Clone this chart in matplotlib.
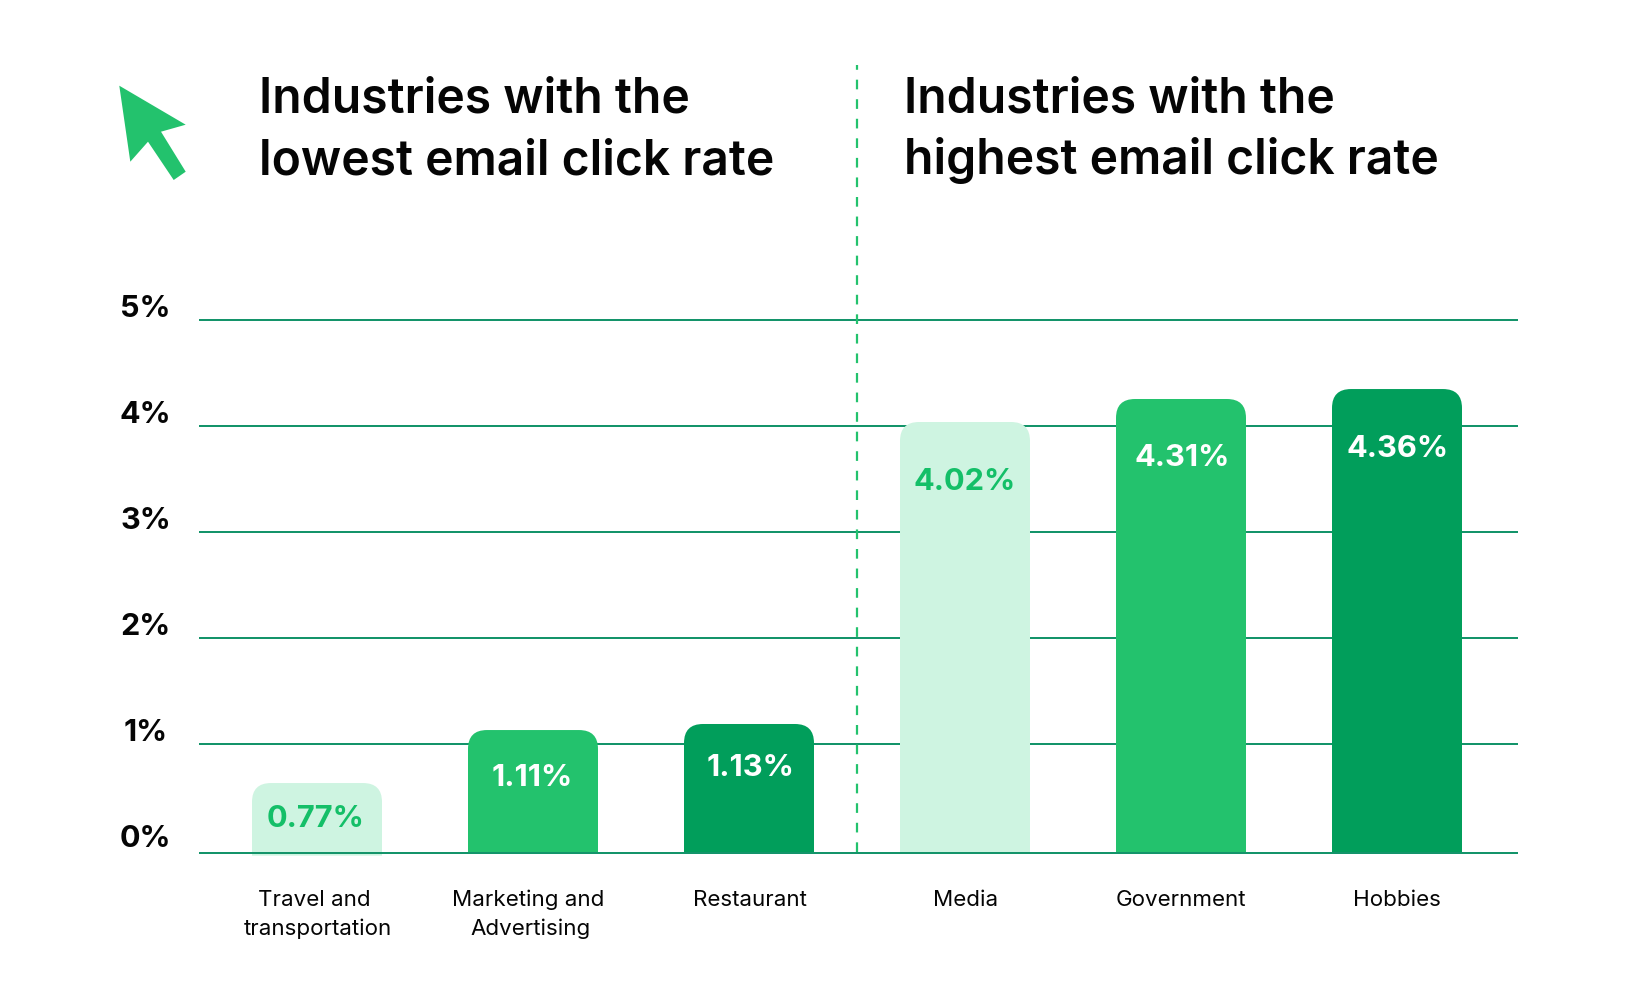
import matplotlib
matplotlib.use("Agg")
import matplotlib.pyplot as plt
from matplotlib.lines import Line2D
from matplotlib.patches import PathPatch, Polygon
from matplotlib.path import Path
from matplotlib.transforms import Affine2D, ScaledTranslation

plt.rcParams["font.family"] = ["Inter", "DejaVu Sans"]

W, H = 1628, 999
DPI = 100

# chart data
categories = [
    ["Travel and", "transportation"],
    ["Marketing and", "Advertising"],
    ["Restaurant"],
    ["Media"],
    ["Government"],
    ["Hobbies"],
]
value_labels = ["0.77%", "1.11%", "1.13%", "4.02%", "4.31%", "4.36%"]
bar_heights = [0.66, 1.16, 1.217, 4.066, 4.283, 4.377]
bar_bottoms = [-0.025, 0, 0, 0, 0, 0]
tick_values = [0, 1.028, 2.028, 3.028, 4.028, 5.028]
tick_labels = ["0%", "1%", "2%", "3%", "4%", "5%"]
titles = [
    ["Industries with the", "lowest email click rate"],
    ["Industries with the", "highest email click rate"],
]

LIGHT = "#cef4e1"
MID = "#23c26d"
DARK = "#019e5b"
GRID = "#14946a"
INK = "#050505"
bar_colors = [LIGHT, MID, DARK, LIGHT, MID, DARK]
label_colors = ["#14bf68", "white", "white", "#14bf68", "white", "white"]

fig = plt.figure(figsize=(W / DPI, H / DPI), dpi=DPI)
# pixel coordinates of the picture, y going down
px = Affine2D().scale(1, -1).translate(0, H)

left, right, top, bottom = 199, 1518, 310, 853
ax = fig.add_axes([left / W, (H - bottom) / H, (right - left) / W, (bottom - top) / H])
ax.set_xlim((left - 317) / 216, (right - 317) / 216)
ax.set_ylim(0, (bottom - top) / 106)
for side in ax.spines.values():
    side.set_visible(False)
ax.set_xticks([])

ax.set_yticks(tick_values, tick_labels, fontsize=22, fontweight=700, color=INK)
ax.tick_params(axis="y", length=0, pad=38.4)
tick_shift = [6, 3, 2.7, 2.7, 2.7, 3.3]
for label, shift in zip(ax.get_yticklabels(), tick_shift):
    label.set_ha("center")
    label.set_va("baseline")
    label.set_transform(
        label.get_transform()
        + ScaledTranslation(0, shift / DPI, fig.dpi_scale_trans)
    )

ax.set_axisbelow(True)
ax.yaxis.grid(True, color=GRID, linewidth=1.44)
ax.axhline(0, color=GRID, linewidth=1.44, zorder=4, clip_on=False, solid_capstyle="butt")

# bars with rounded top corners only
positions = range(len(categories))
rects = ax.bar(positions, bar_heights, width=130 / 216, bottom=bar_bottoms, alpha=0)
rx, ry = 19 / 216, 19 / 106
for rect, height, base, color in zip(rects, bar_heights, bar_bottoms, bar_colors):
    x0, x1 = rect.get_x(), rect.get_x() + rect.get_width()
    verts = [
        (x0, base), (x0, height - ry),
        (x0, height), (x0 + rx, height),
        (x1 - rx, height),
        (x1, height), (x1, height - ry),
        (x1, base), (x0, base),
    ]
    codes = [
        Path.MOVETO, Path.LINETO,
        Path.CURVE3, Path.CURVE3,
        Path.LINETO,
        Path.CURVE3, Path.CURVE3,
        Path.LINETO, Path.CLOSEPOLY,
    ]
    ax.add_patch(PathPatch(Path(verts, codes), facecolor=color, edgecolor="none",
                           zorder=3, clip_on=False))

# labels inside the bars
label_x = [316, 532, 750, 965, 1182, 1398]
label_y = [827, 785.5, 775.5, 490, 465.5, 457]
for x, y, text, color in zip(label_x, label_y, value_labels, label_colors):
    fig.text(x, y, text, transform=px, fontsize=22.2, fontweight=700, color=color,
             ha="center", va="baseline", zorder=6)

# category names below the axis
cat_x = [[314, 317.5], [528, 531], [749.5], [966], [1181], [1397]]
for xs, lines in zip(cat_x, categories):
    for i, (x, line) in enumerate(zip(xs, lines)):
        fig.text(x, 906 + i * 29, line, transform=px, fontsize=16.1, color=INK,
                 ha="center", va="baseline")

# headings
for x, lines in zip([259, 904], titles):
    for i, line in enumerate(lines):
        fig.text(x, 112.5 + i * 62, line, transform=px, fontsize=34.6, fontweight=600,
                 color=INK, ha="left", va="baseline")

# dashed separator
fig.add_artist(Line2D([857, 857], [65, 856], transform=px + fig.transFigure.inverted() + fig.transFigure,
                      color=MID, linewidth=1.6, dash_capstyle="butt",
                      linestyle=(2.2, (4.35, 4.45)), zorder=5))

# cursor icon
arrow = [(119.3, 85.7), (185.7, 124.7), (161, 131.7), (185.7, 171.7),
         (173.7, 180), (148, 141.7), (130.3, 161.7)]
fig.add_artist(Polygon(arrow, closed=True, transform=px, facecolor=MID, edgecolor="none"))

fig.savefig("out.png", dpi=DPI, facecolor="white")
